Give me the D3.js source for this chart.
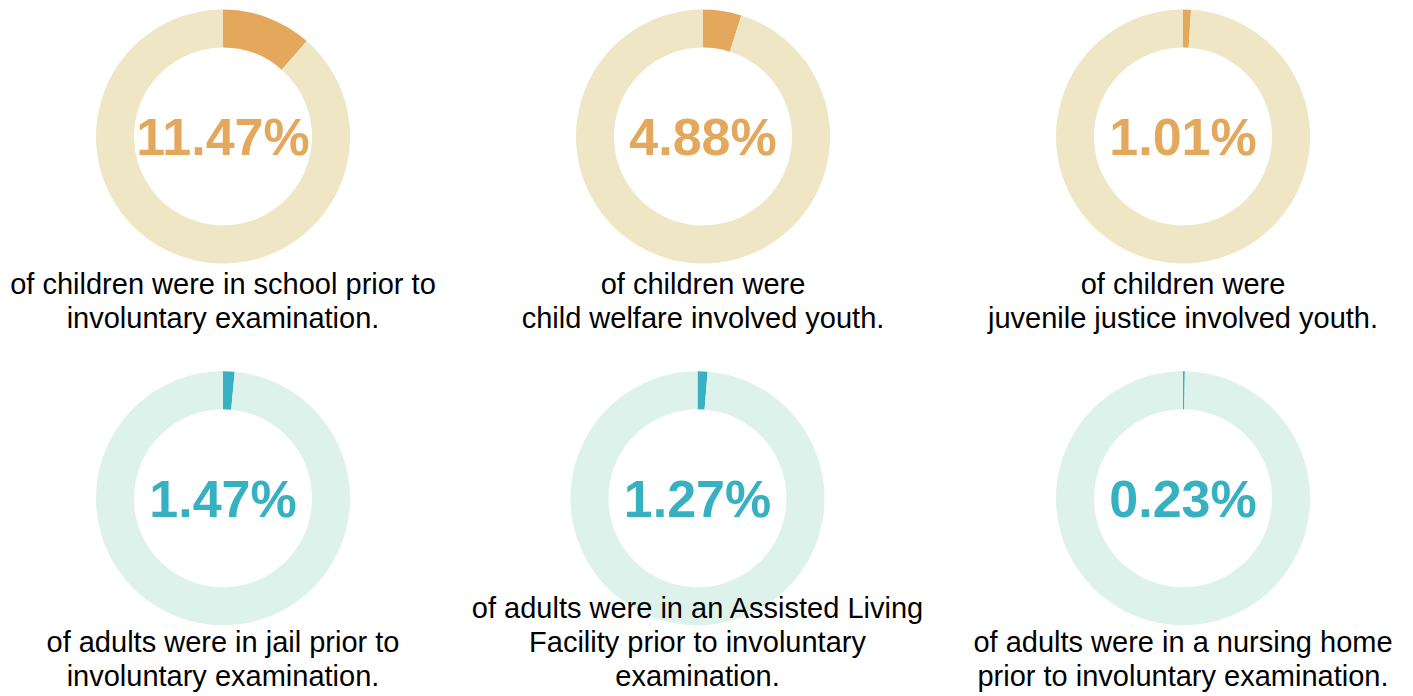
<!DOCTYPE html>
<html lang="en">

<head>
    <meta charset="UTF-8">
    <title>Involuntary examination - prior settings</title>
    <style>
        body {
            margin: 0;
            background: #fff;
        }

        .pct {
            font-family: "Liberation Sans", Arial, sans-serif;
            font-weight: bold;
            font-size: 52px;
            text-anchor: middle;
        }

        .label {
            font-family: "Liberation Sans", Arial, sans-serif;
            font-size: 29px;
            fill: #000;
            text-anchor: middle;
        }
    </style>
</head>

<body>
    <script src="https://d3js.org/d3.v7.min.js"></script>
    <script>
        const width = 1413;
        const height = 696;

        // share of people (%) in each setting prior to involuntary examination
        const values = [11.47, 4.88, 1.01, 1.47, 1.27, 0.23];
        const groups = ["children", "children", "children", "adults", "adults", "adults"];
        const valueLabels = ["11.47%", "4.88%", "1.01%", "1.47%", "1.27%", "0.23%"];
        const labels = [
            ["of children were in school prior to", "involuntary examination."],
            ["of children were", "child welfare involved youth."],
            ["of children were", "juvenile justice involved youth."],
            ["of adults were in jail prior to", "involuntary examination."],
            ["of adults were in an Assisted Living", "Facility prior to involuntary", "examination."],
            ["of adults were in a nursing home", "prior to involuntary examination."]
        ];

        // colours per group: [highlight, remainder]
        const colors = {
            children: ["#e3a85b", "#efe6c5"],
            adults: ["#37b1c1", "#ddf2ea"]
        };

        const outerR = 127;
        const innerR = 89;
        const lineH = 34;

        // grid layout
        const xCol = d3.scalePoint().domain([0, 1, 2]).range([223, 1183]);
        const yRow = [136.5, 498.3];
        const labelBottom = [327.5, 686];   // baseline of last label line in each row
        const xShift = [0, 0, 0, 0, -5.5, 0];

        const svg = d3.select("body").append("svg")
            .attr("width", width)
            .attr("height", height);

        const pie = d3.pie().sort(null).value(function (d) { return d; });
        const arc = d3.arc().innerRadius(innerR).outerRadius(outerR);

        values.forEach(function (v, i) {
            const row = Math.floor(i / 3);
            const col = i % 3;
            const cx = xCol(col) + xShift[i];
            const cy = yRow[row];
            const c = colors[groups[i]];

            const g = svg.append("g")
                .attr("transform", "translate(" + cx + "," + cy + ")");

            g.selectAll("path")
                .data(pie([v, 100 - v]))
                .enter()
                .append("path")
                .attr("d", arc)
                .attr("fill", function (d, j) { return c[j]; });

            g.append("text")
                .attr("class", "pct")
                .attr("y", 18.6)
                .attr("fill", c[0])
                .text(valueLabels[i]);
        });

        // labels last so they sit over the donuts
        values.forEach(function (v, i) {
            const row = Math.floor(i / 3);
            const cx = xCol(i % 3) + xShift[i];

            const lab = svg.append("text")
                .attr("class", "label")
                .attr("x", cx)
                .attr("y", labelBottom[row] - (labels[i].length - 1) * lineH);
            lab.selectAll("tspan")
                .data(labels[i])
                .enter()
                .append("tspan")
                .attr("x", cx)
                .attr("dy", function (d, j) { return j === 0 ? 0 : lineH; })
                .text(function (d) { return d; });
        });
    </script>
</body>

</html>
